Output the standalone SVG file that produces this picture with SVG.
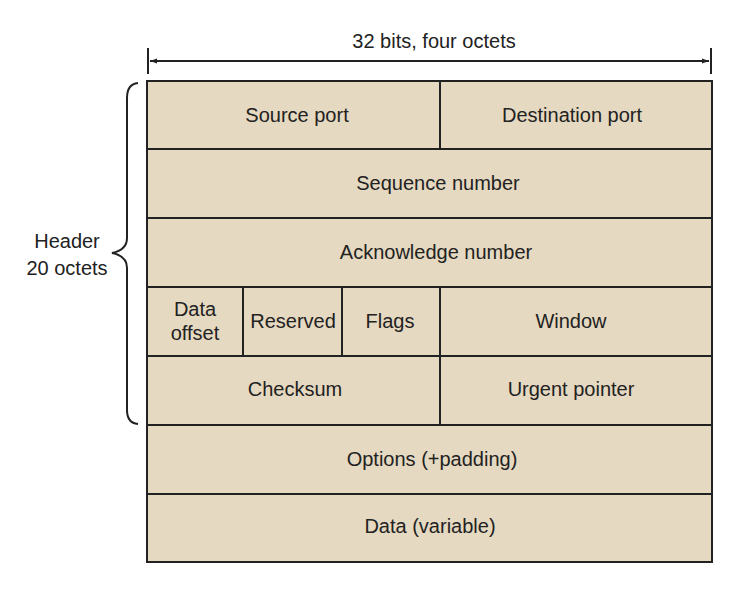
<svg xmlns="http://www.w3.org/2000/svg" width="738" height="590" viewBox="0 0 738 590">
<defs>
<style>
.cell{fill:#e6d9c1;stroke:#222;stroke-width:2}
.t{font-family:"Liberation Sans",Arial,sans-serif;font-size:20px;fill:#222;text-anchor:middle}
.ln{stroke:#222;stroke-width:2;fill:none}
</style>
<marker id="ah" viewBox="0 0 10 10" refX="10" refY="5" markerWidth="10" markerHeight="7" orient="auto-start-reverse" markerUnits="userSpaceOnUse">
<path d="M0,1.5 L10,5 L0,8.5 z" fill="#222"/>
</marker>
</defs>
<rect width="738" height="590" fill="#fff"/>
<g id="connectors">
<line class="ln" x1="148" y1="48" x2="148" y2="74"/>
<line class="ln" x1="711" y1="48" x2="711" y2="74"/>
<line class="ln" x1="150" y1="61" x2="709" y2="61" marker-start="url(#ah)" marker-end="url(#ah)"/>
<path class="ln" d="M138,83 Q127,84 127,98 L127,238 Q127,250 112,253 Q127,256 127,268 L127,410 Q127,423 138,424"/>
</g>
<text class="t" x="434" y="48">32 bits, four octets</text>
<text class="t" x="67" y="248">Header</text>
<text class="t" x="67" y="275">20 octets</text>
<g id="source-port"><rect class="cell" x="147" y="81" width="293" height="68"/><text class="t" x="297" y="122">Source port</text></g>
<g id="destination-port"><rect class="cell" x="440" y="81" width="272" height="68"/><text class="t" x="572" y="122">Destination port</text></g>
<g id="sequence-number"><rect class="cell" x="147" y="149" width="565" height="69"/><text class="t" x="438" y="190">Sequence number</text></g>
<g id="ack-number"><rect class="cell" x="147" y="218" width="565" height="69"/><text class="t" x="436" y="259">Acknowledge number</text></g>
<g id="data-offset"><rect class="cell" x="147" y="287" width="96" height="69"/><text class="t" x="195" y="316">Data</text><text class="t" x="195" y="340">offset</text></g>
<g id="reserved"><rect class="cell" x="243" y="287" width="99" height="69"/><text class="t" x="293" y="328">Reserved</text></g>
<g id="flags"><rect class="cell" x="342" y="287" width="98" height="69"/><text class="t" x="390" y="328">Flags</text></g>
<g id="window"><rect class="cell" x="440" y="287" width="272" height="69"/><text class="t" x="571" y="328">Window</text></g>
<g id="checksum"><rect class="cell" x="147" y="356" width="293" height="69"/><text class="t" x="295" y="396">Checksum</text></g>
<g id="urgent-pointer"><rect class="cell" x="440" y="356" width="272" height="69"/><text class="t" x="571" y="396">Urgent pointer</text></g>
<g id="options"><rect class="cell" x="147" y="425" width="565" height="69"/><text class="t" x="432" y="466">Options (+padding)</text></g>
<g id="data"><rect class="cell" x="147" y="494" width="565" height="68"/><text class="t" x="430" y="533">Data (variable)</text></g>
</svg>
